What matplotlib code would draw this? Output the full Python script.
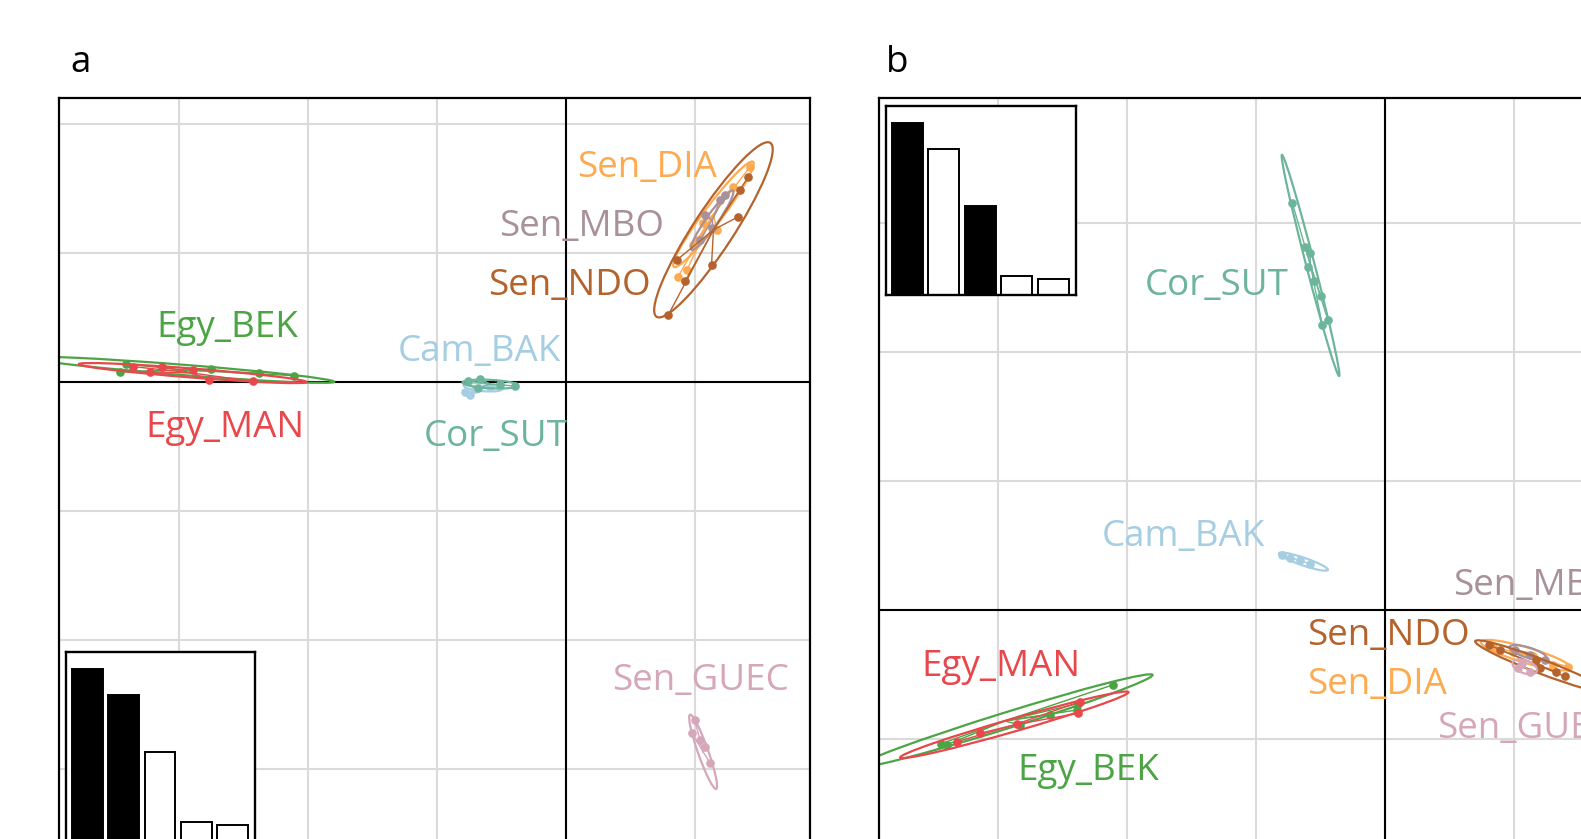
import numpy as np
import matplotlib.pyplot as plt
from matplotlib.patches import Ellipse

plt.rcParams['font.family'] = ['Open Sans', 'DejaVu Sans']

W, H = 1581, 839

GROUPS = ['Egy_BEK', 'Egy_MAN', 'Cam_BAK', 'Cor_SUT',
          'Sen_DIA', 'Sen_MBO', 'Sen_NDO', 'Sen_GUEC']
COLORS = {'Egy_BEK': '#4ca545', 'Egy_MAN': '#e8474c', 'Cam_BAK': '#a6cee3',
          'Cor_SUT': '#6db59a', 'Sen_DIA': '#fdaa50', 'Sen_MBO': '#a8919b',
          'Sen_NDO': '#b5632d', 'Sen_GUEC': '#d5a7b8'}

# eigenvalues of the discriminant functions (inset barplot)
eig = [172, 146, 89, 19, 16]
a_axes_used = [True, True, False, False, False]
b_axes_used = [True, False, True, False, False]

# ---- panel a ----
a_points = {
    'Egy_BEK': [(-6.81, 0.28), (-6.91, 0.16), (-5.50, 0.20), (-4.75, 0.14), (-4.21, 0.10)],
    'Egy_MAN': [(-6.70, 0.24), (-6.44, 0.16), (-6.25, 0.24), (-5.77, 0.18), (-5.53, 0.03), (-4.84, 0.01)],
    'Cam_BAK': [(-1.56, -0.16), (-1.41, -0.11), (-1.17, -0.08), (-1.02, -0.06), (-1.48, -0.20)],
    'Cor_SUT': [(-1.51, 0.02), (-1.33, 0.05), (-1.02, -0.03), (-0.79, -0.06), (-1.36, -0.09)],
    'Sen_DIA': [(2.86, 3.34), (2.60, 3.03), (2.13, 2.46), (2.34, 2.36), (2.05, 2.20),
                (1.98, 2.12), (1.88, 1.74), (1.74, 1.63)],
    'Sen_MBO': [(2.16, 2.59), (2.39, 2.82), (2.08, 2.20), (2.47, 2.90), (2.27, 2.39)],
    'Sen_NDO': [(2.83, 3.18), (2.70, 2.98), (2.67, 2.56), (1.72, 1.89), (2.26, 1.81),
                (1.85, 1.56), (1.59, 1.04)],
    'Sen_GUEC': [(2.00, -5.24), (1.96, -5.44), (2.16, -5.65), (2.24, -5.91), (2.08, -5.55)],
}
# centre x, centre y, semi-axis 1, semi-axis 2, angle
a_ellipses = {
    'Egy_BEK': (-5.94, 0.19, 2.36, 0.08, -4.5),
    'Egy_MAN': (-5.78, 0.14, 1.77, 0.07, -4.5),
    'Cam_BAK': (-1.28, -0.08, 0.30, 0.06, -5),
    'Cor_SUT': (-1.17, -0.03, 0.43, 0.065, -3),
    'Sen_DIA': (2.29, 2.60, 1.02, 0.14, 53),
    'Sen_MBO': (2.27, 2.51, 0.56, 0.09, 55),
    'Sen_NDO': (2.29, 2.36, 1.61, 0.31, 56.8),
    'Sen_GUEC': (2.13, -5.73, 0.61, 0.08, -70.6),
}
# label x, baseline y, alignment
a_labels = {
    'Sen_DIA': (1.26, 3.18, 'center'), 'Sen_MBO': (0.25, 2.26, 'center'),
    'Sen_NDO': (0.06, 1.35, 'center'), 'Egy_BEK': (-5.25, 0.70, 'center'),
    'Cam_BAK': (-1.33, 0.32, 'center'), 'Egy_MAN': (-5.28, -0.85, 'center'),
    'Cor_SUT': (-1.09, -0.99, 'center'), 'Sen_GUEC': (2.09, -4.77, 'center'),
}

# ---- panel b ----
b_points = {
    'Egy_BEK': [(-4.22, -1.16), (-4.76, -1.45), (-4.78, -1.55), (-5.66, -1.78),
                (-6.88, -2.07), (-6.80, -2.09), (-5.20, -1.62)],
    'Egy_MAN': [(-4.76, -1.60), (-5.71, -1.76), (-6.64, -2.04), (-6.28, -1.91), (-4.73, -1.42)],
    'Cam_BAK': [(-1.60, 0.85), (-1.48, 0.81), (-1.32, 0.78), (-1.17, 0.71)],
    'Cor_SUT': [(-1.44, 6.30), (-1.24, 5.63), (-1.17, 5.53), (-1.20, 5.32), (-1.00, 4.86),
                (-0.98, 4.42), (-0.89, 4.49), (-1.10, 5.10)],
    'Sen_DIA': [(1.67, -0.57), (1.98, -0.65), (2.60, -0.85), (2.83, -0.88), (2.29, -0.72)],
    'Sen_MBO': [(2.01, -0.62), (2.24, -0.70), (2.47, -0.78)],
    'Sen_NDO': [(1.60, -0.54), (1.78, -0.62), (2.34, -0.78), (2.65, -0.96), (2.78, -1.03),
                (2.40, -0.90)],
    'Sen_GUEC': [(2.06, -0.90), (2.24, -0.96), (2.12, -0.82)],
}
b_ellipses = {
    'Egy_BEK': (-5.90, -1.72, 2.40, 0.124, 17.3),
    'Egy_MAN': (-5.75, -1.78, 1.84, 0.10, 16.0),
    'Cam_BAK': (-1.27, 0.75, 0.40, 0.06, -18.8),
    'Cor_SUT': (-1.16, 5.34, 1.77, 0.065, -75.5),
    'Sen_DIA': (2.18, -0.70, 0.73, 0.12, -16.5),
    'Sen_MBO': (2.21, -0.66, 0.30, 0.08, -17),
    'Sen_NDO': (2.40, -0.87, 1.08, 0.11, -21),
    'Sen_GUEC': (2.16, -0.88, 0.20, 0.10, -20),
}
b_labels = {
    'Cor_SUT': (-2.61, 4.88, 'center'), 'Cam_BAK': (-3.13, 0.99, 'center'),
    'Sen_MBO': (1.05, 0.24, 'left'), 'Sen_NDO': (-1.22, -0.55, 'left'),
    'Sen_DIA': (-1.22, -1.30, 'left'), 'Sen_GUEC': (0.80, -1.99, 'left'),
    'Egy_MAN': (-5.95, -1.02, 'center'), 'Egy_BEK': (-4.61, -2.63, 'center'),
}


def px_axes(left, top, right, bottom):
    return [left / W, 1 - bottom / H, (right - left) / W, (bottom - top) / H]


def draw_panel(ax, pts, ells, labs, xlim, ylim):
    ax.set_xticks(np.arange(-8, 9, 2))
    ax.set_yticks(np.arange(-8, 9, 2))
    ax.tick_params(length=0, labelbottom=False, labelleft=False)
    ax.set_axisbelow(True)
    ax.grid(color='#dadada', lw=1.5)
    ax.axhline(0, color='black', lw=1.5, zorder=1.5)
    ax.axvline(0, color='black', lw=1.5, zorder=1.5)
    for s in ax.spines.values():
        s.set_linewidth(1.6)
    for g in GROUPS:
        c = COLORS[g]
        cx, cy, w, h, ang = ells[g]
        for x, y in pts[g]:
            ax.plot([cx, x], [cy, y], color=c, lw=1.0, zorder=2)
        xs, ys = zip(*pts[g])
        ax.plot(xs, ys, 'o', color=c, ms=5.2, zorder=2)
        ax.add_patch(Ellipse((cx, cy), 2 * w, 2 * h, angle=ang, fill=False,
                             ec=c, lw=1.6, zorder=2))
    for g in GROUPS:
        lx, ly, ha = labs[g]
        ax.text(lx, ly, g, color=COLORS[g], fontsize=26.5, ha=ha, va='baseline',
                zorder=3)
    ax.set_xlim(*xlim)
    ax.set_ylim(*ylim)


def draw_inset(ax, used):
    cols = ['black' if u else 'white' for u in used]
    ax.bar(range(len(eig)), eig, width=0.85, color=cols, edgecolor='black', lw=1.4)
    ax.set_xlim(-0.59, 4.62)
    ax.set_ylim(0, 189)
    ax.set_xticks([])
    ax.set_yticks([])
    ax.set_facecolor('white')
    for s in ax.spines.values():
        s.set_linewidth(1.7)


fig = plt.figure(figsize=(W / 100, H / 100), dpi=100)

ax_a = fig.add_axes(px_axes(58.5, 97.8, 809.6, 900))
draw_panel(ax_a, a_points, a_ellipses, a_labels, (-7.860, 3.780), (-8.026, 4.406))
ax_b = fig.add_axes(px_axes(879.0, 97.8, 1650, 900))
draw_panel(ax_b, b_points, b_ellipses, b_labels, (-7.847, 4.100), (-4.494, 7.937))

ins_a = fig.add_axes(px_axes(66, 652, 255, 841.3))
draw_inset(ins_a, a_axes_used)
ins_b = fig.add_axes(px_axes(886, 105.7, 1076, 295))
draw_inset(ins_b, b_axes_used)

fig.text(70 / W, 1 - 72 / H, 'a', fontsize=26.5, ha='left', va='baseline')
fig.text(886 / W, 1 - 72 / H, 'b', fontsize=26.5, ha='left', va='baseline')

fig.savefig('out.png', dpi=100)
